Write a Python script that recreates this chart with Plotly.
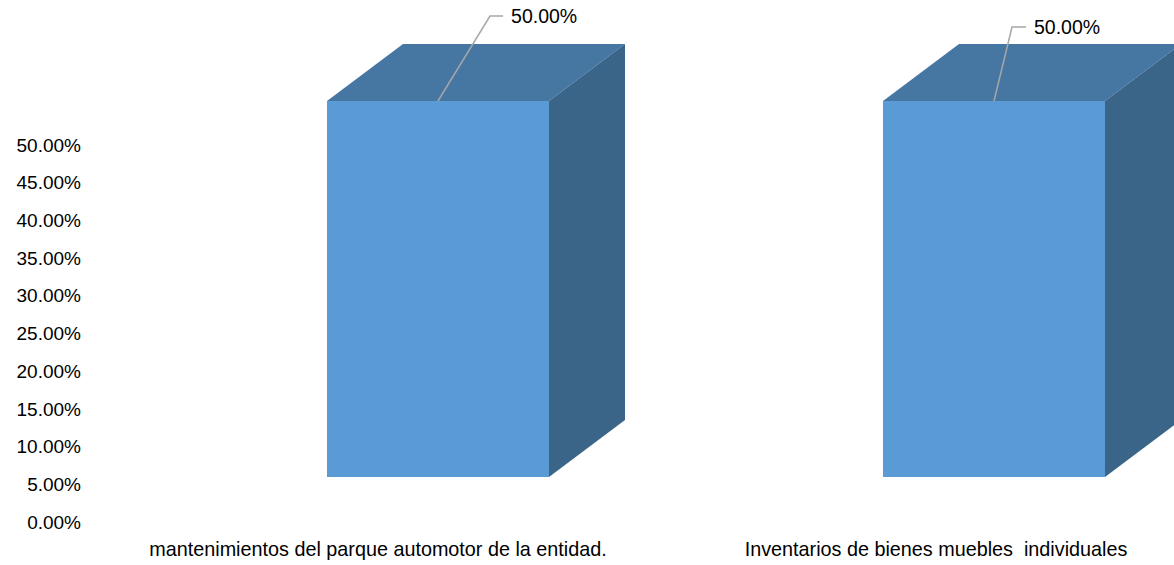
import plotly.graph_objects as go

categories = ["mantenimientos del parque automotor de la entidad.", "Inventarios de bienes muebles\u00a0 individuales"]
values = [0.5, 0.5]
positions = [0, 1]
y_ticks = [0, 0.05, 0.10, 0.15, 0.20, 0.25, 0.30, 0.35, 0.40, 0.45, 0.50]
label_dx = [[0, 0.0935, 0.117], [0, 0.0324, 0.0576]]   # leader elbow offsets (category units)
label_dy = [[0, 0.1130, 0.1130], [0, 0.0984, 0.0984]]  # leader elbow offsets (value units)

W, H = 1174, 565
ml, mb = 82, 30
X0, XS = 438, 556          # pixel of first bar centre, pixels per category
LX0, LXS = 378, 558        # pixel of first category label, pixels per category
Y0_AX, YS_AX = 522, 754    # wall axis
Y0_BAR, YS_BAR = 477, 752  # front plane of the boxes
BAR_W = 222 / XS
DX, DY = 76 / XS, 57 / YS_BAR
TXT_DX, TXT_DY = 8 / XS, -2 / YS_BAR
FRONT, TOP, SIDE, LEAD = "#5B9BD5", "#4676A2", "#3A6488", "#A6A6A6"
FONT = "Liberation Sans"

fig = go.Figure()
fig.add_trace(go.Scatter(x=positions, y=values, mode="none", showlegend=False, hoverinfo="skip"))
fig.add_trace(go.Bar(x=positions, y=values, width=BAR_W, marker=dict(color=FRONT, line_width=0),
                     xaxis="x2", yaxis="y2", showlegend=False))
for p, v in zip(positions, values):
    l, r = p - BAR_W / 2, p + BAR_W / 2
    fig.add_trace(go.Scatter(x=[l, r, r + DX, l + DX, l], y=[v, v, v + DY, v + DY, v], fill="toself",
                             fillcolor=TOP, mode="none", xaxis="x2", yaxis="y2", showlegend=False))
    fig.add_trace(go.Scatter(x=[r, r + DX, r + DX, r, r], y=[0, DY, v + DY, v, 0], fill="toself",
                             fillcolor=SIDE, mode="none", xaxis="x2", yaxis="y2", showlegend=False))
for p, v, dx, dy in zip(positions, values, label_dx, label_dy):
    fig.add_trace(go.Scatter(x=[p + d for d in dx], y=[v + d for d in dy], mode="lines",
                             line=dict(color=LEAD, width=1.5), xaxis="x2", yaxis="y2", showlegend=False))
    fig.add_trace(go.Scatter(x=[p + dx[-1] + TXT_DX], y=[v + dy[-1] + TXT_DY], mode="text", text=[f"{v:.2%}"],
                             textposition="middle right", textfont=dict(family=FONT, size=19.5, color="#000000"),
                             xaxis="x2", yaxis="y2", showlegend=False))

x2_range = [(ml - X0) / XS, (W - X0) / XS]
x_range = [(ml - LX0) / LXS, (W - LX0) / LXS]
bottom = H - mb
fig.update_layout(
    width=W, height=H, margin=dict(l=ml, r=0, t=0, b=mb, pad=0),
    paper_bgcolor="white", plot_bgcolor="white", showlegend=False, bargap=0,
    xaxis=dict(range=x_range, tickvals=positions, ticktext=categories, showgrid=False, zeroline=False,
               showline=False, ticks="", tickangle=0, tickfont=dict(family=FONT, size=19.8, color="#000000")),
    yaxis=dict(range=[(Y0_AX - bottom) / YS_AX, Y0_AX / YS_AX], tickvals=y_ticks, tickformat=".2%",
               showgrid=False, zeroline=False, showline=False, ticks="",
               tickfont=dict(family=FONT, size=19, color="#000000")),
    xaxis2=dict(range=x2_range, overlaying="x", visible=False),
    yaxis2=dict(range=[(Y0_BAR - bottom) / YS_BAR, Y0_BAR / YS_BAR], overlaying="y", visible=False),
)
fig.write_html("out.html", post_script="document.body.style.margin='0';document.body.style.overflow='hidden';",
               config={"displayModeBar": False})
